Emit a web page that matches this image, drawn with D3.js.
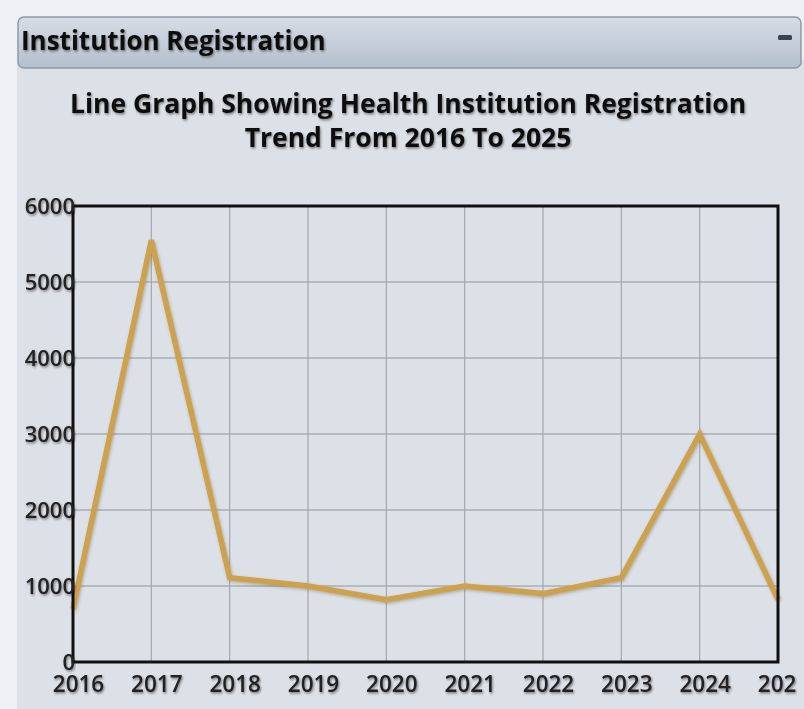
<!DOCTYPE html>
<html>
<head>
<meta charset="utf-8">
<script src="https://cdn.jsdelivr.net/npm/d3@7"></script>
<style>
  html, body { margin: 0; padding: 0; background: #eef0f3; }
  svg { display: block; }
</style>
</head>
<body>
<svg id="chart" width="804" height="709"></svg>
<script>
const panelTitle = "Institution Registration";
const titleLines = ["Line Graph Showing Health Institution Registration", "Trend From 2016 To 2025"];
const years = ["2016","2017","2018","2019","2020","2021","2022","2023","2024","2025"];
const registrations = [700, 5550, 1110, 1000, 820, 1000, 900, 1110, 3000, 820];
const yTicks = [0, 1000, 2000, 3000, 4000, 5000, 6000];

const svg = d3.select("#chart");
const defs = svg.append("defs");

const hg = defs.append("linearGradient").attr("id","hdr").attr("x1",0).attr("y1",0).attr("x2",0).attr("y2",1);
hg.append("stop").attr("offset","0%").attr("stop-color","#d7dde6");
hg.append("stop").attr("offset","100%").attr("stop-color","#b4bfcd");

const sh = defs.append("filter").attr("id","tshadow").attr("x","-5%").attr("y","-20%").attr("width","110%").attr("height","150%");
sh.append("feDropShadow").attr("dx",1).attr("dy",1.5).attr("stdDeviation",1.2).attr("flood-color","#000").attr("flood-opacity",0.45);

const lsh = defs.append("filter").attr("id","lshadow").attr("x","-10%").attr("y","-10%").attr("width","120%").attr("height","120%");
lsh.append("feDropShadow").attr("dx",1).attr("dy",1.5).attr("stdDeviation",1.5).attr("flood-color","#7a6a40").attr("flood-opacity",0.45);

const clip = defs.append("clipPath").attr("id","pclip");
clip.append("rect").attr("x",0).attr("y",0).attr("width",797).attr("height",709);

// panel body
svg.append("rect").attr("x",17).attr("y",60).attr("width",800).attr("height",660)
  .attr("fill","#dce0e7");

// header bar
svg.append("rect").attr("x",18).attr("y",17).attr("width",783).attr("height",51).attr("rx",6)
  .attr("fill","url(#hdr)").attr("stroke","#8e99a8").attr("stroke-width",1.5);
svg.append("text").attr("x",21).attr("y",50).text(panelTitle)
  .attr("font-family","Open Sans").attr("font-weight",700).attr("font-size",26)
  .attr("fill","#111").attr("filter","url(#tshadow)");
svg.append("rect").attr("x",778).attr("y",35).attr("width",14).attr("height",5).attr("rx",1.5)
  .attr("fill","#3a4350");

// title
titleLines.forEach((t,i) => {
  svg.append("text").attr("x",408).attr("y",113 + i*34).attr("text-anchor","middle").text(t)
    .attr("font-family","Open Sans").attr("font-weight",700).attr("font-size",26.5)
    .attr("fill","#111").attr("filter","url(#tshadow)");
});

const m = {left:73, right:778, top:206, bottom:662};
const x = d3.scalePoint().domain(years).range([m.left, m.right]);
const y = d3.scaleLinear().domain([0, 6000]).range([m.bottom, m.top]);

const g = svg.append("g").attr("clip-path","url(#pclip)");

// gridlines
g.append("g").selectAll("line.h").data(yTicks).join("line")
  .attr("x1", m.left).attr("x2", m.right).attr("y1", d=>y(d)).attr("y2", d=>y(d))
  .attr("stroke","#8f949c").attr("stroke-width",1.2);
g.append("g").selectAll("line.v").data(years).join("line")
  .attr("x1", d=>x(d)).attr("x2", d=>x(d)).attr("y1", m.top).attr("y2", m.bottom)
  .attr("stroke","#a4a8ae").attr("stroke-width",1.2);

// line
const line = d3.line().x((d,i)=>x(years[i])).y(d=>y(d));
g.append("path").datum(registrations).attr("d", line)
  .attr("fill","none").attr("stroke","#cda24f").attr("stroke-width",5.5)
  .attr("stroke-linejoin","miter").attr("filter","url(#lshadow)");

// frame
g.append("rect").attr("x",m.left).attr("y",m.top).attr("width",m.right-m.left).attr("height",m.bottom-m.top)
  .attr("fill","none").attr("stroke","#111").attr("stroke-width",3);

// axes
const yAxis = d3.axisLeft(y).tickValues(yTicks).tickFormat(d3.format("d")).tickSize(0).tickPadding(-2);
const ya = g.append("g").attr("transform",`translate(${m.left},0)`).call(yAxis);
ya.select(".domain").remove();
ya.selectAll("text").attr("font-family","Open Sans").attr("font-weight",600).attr("font-size",22)
  .attr("fill","#222").attr("dy","0.35em").attr("filter","url(#tshadow)");

const xAxis = d3.axisBottom(x).tickSize(0).tickPadding(14);
const xa = g.append("g").attr("transform",`translate(0,${m.bottom})`).call(xAxis);
xa.select(".domain").remove();
xa.selectAll("text").attr("font-family","Open Sans").attr("font-weight",600).attr("font-size",22.5)
  .attr("fill","#222").attr("dx","5").attr("filter","url(#tshadow)");
</script>
</body>
</html>
